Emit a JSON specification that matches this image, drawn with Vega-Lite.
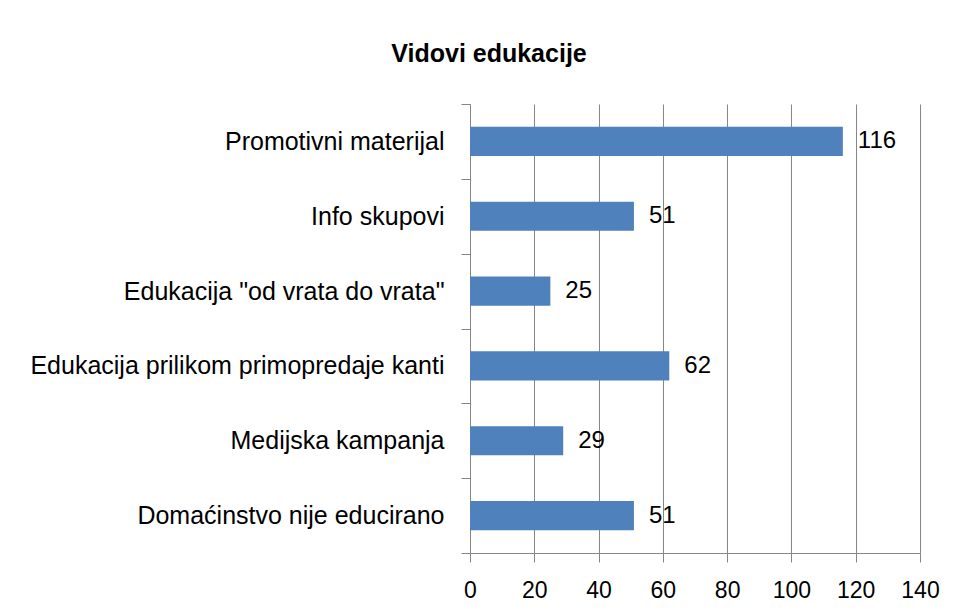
{
  "$schema": "https://vega.github.io/schema/vega-lite/v6.json",
  "autosize": "none",
  "width": 450,
  "height": 449,
  "padding": {"left": 470, "top": 104, "right": 38, "bottom": 60},
  "background": "white",
  "title": {
    "text": "Vidovi edukacije",
    "font": "Liberation Sans",
    "fontSize": 25,
    "fontWeight": "bold",
    "color": "#000000",
    "anchor": "middle",
    "dx": -206,
    "offset": 25
  },
  "data": {
    "values": [
      {"kategorija": "Promotivni materijal", "broj": 116},
      {"kategorija": "Info skupovi", "broj": 51},
      {"kategorija": "Edukacija \"od vrata do vrata\"", "broj": 25},
      {"kategorija": "Edukacija prilikom primopredaje kanti", "broj": 62},
      {"kategorija": "Medijska kampanja", "broj": 29},
      {"kategorija": "Domaćinstvo nije educirano", "broj": 51}
    ]
  },
  "encoding": {
    "y": {
      "field": "kategorija",
      "type": "nominal",
      "sort": null,
      "scale": {"paddingInner": 0, "paddingOuter": 0},
      "axis": {
        "title": null,
        "tickBand": "extent",
        "grid": false,
        "domainColor": "#868686",
        "tickColor": "#868686",
        "tickSize": 9,
        "labelPadding": 17,
        "labelFont": "Liberation Sans",
        "labelFontSize": 25,
        "labelColor": "#000000",
        "labelLimit": 500
      }
    },
    "x": {
      "field": "broj",
      "type": "quantitative",
      "scale": {"domain": [0, 140], "nice": false},
      "axis": {
        "title": null,
        "values": [0, 20, 40, 60, 80, 100, 120, 140],
        "grid": true,
        "gridColor": "#868686",
        "domainColor": "#868686",
        "tickColor": "#868686",
        "tickSize": 9,
        "labelPadding": 17,
        "labelFont": "Liberation Sans",
        "labelFontSize": 23,
        "labelColor": "#000000",
        "labelFlush": false
      }
    }
  },
  "layer": [
    {
      "mark": {"type": "bar", "color": "#4F81BD", "height": {"band": 0.39}}
    },
    {
      "mark": {"type": "text", "align": "left", "baseline": "middle", "dx": 15, "font": "Liberation Sans", "fontSize": 24, "color": "#000000"},
      "encoding": {"text": {"field": "broj", "type": "quantitative"}}
    }
  ],
  "config": {"view": {"stroke": null}}
}
